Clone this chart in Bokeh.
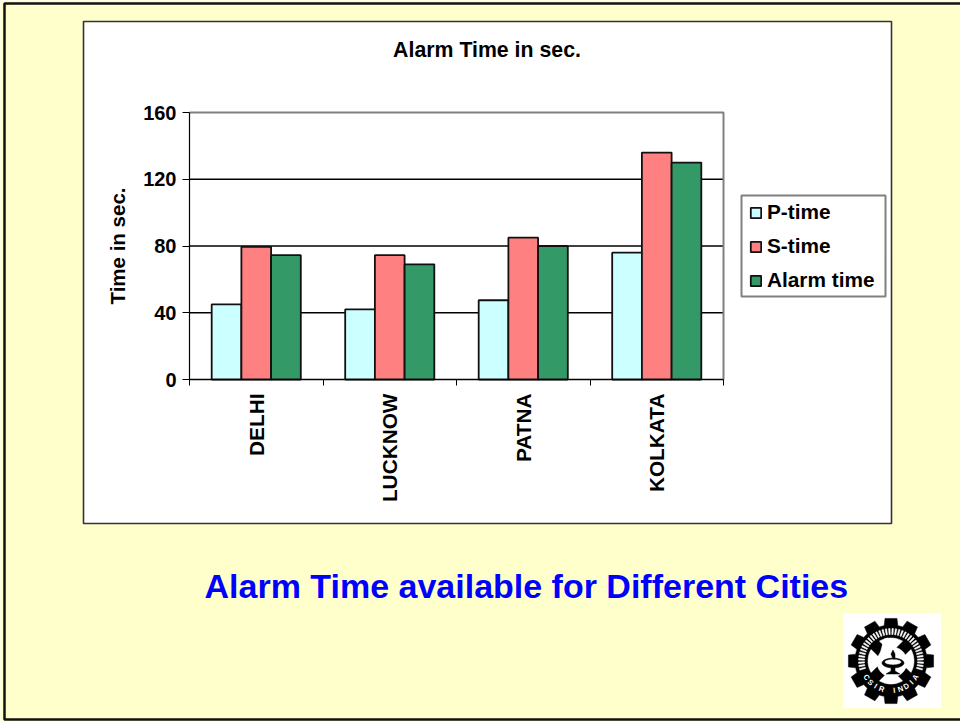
import math
from bokeh.embed import file_html
from bokeh.resources import INLINE
from bokeh.plotting import figure
from bokeh.models import (BoxAnnotation, PolyAnnotation, Label, Legend, LegendItem, FixedTicker,
                          ColumnDataSource, Range1d)
from bokeh.transform import dodge

categories = ["DELHI", "LUCKNOW", "PATNA", "KOLKATA"]
p_time = [45, 42, 47.5, 76]
s_time = [79.5, 74.5, 85, 136]
alarm_time = [74.5, 69, 80, 130]
y_ticks = [0, 40, 80, 120, 160]

FONT = "Liberation Sans"
BG = "#FFFFCC"
W, H = 960, 721
FL, FR, FT, FB = 189, 723, 112, 379
N = len(categories)
YMAX = y_ticks[-1]

sx = (FR - FL) / N
sy = (FB - FT) / YMAX
centers = [i + 0.5 for i in range(N)]
source = ColumnDataSource(dict(x=centers, p=p_time, s=s_time, a=alarm_time))

# The plotting frame fills the whole canvas, the ranges are set so the chart area lands in its place.
p = figure(width=W, height=H, output_backend="svg", toolbar_location=None,
           x_range=Range1d(-FL / sx, (W - FL) / sx), y_range=Range1d((FB - H) / sy, FB / sy),
           min_border=0, background_fill_color=BG, border_fill_color=BG, outline_line_color=None,
           x_axis_location="below", y_axis_location="left")


def box(l, t, r, b, **kw):
    p.add_layout(BoxAnnotation(left=l, right=r, top=t, bottom=b, left_units="canvas", right_units="canvas",
                               top_units="canvas", bottom_units="canvas", level="underlay", fill_alpha=1,
                               line_alpha=1, **kw))


def poly(pts, color):
    p.add_layout(PolyAnnotation(xs=[a for a, _ in pts], ys=[b for _, b in pts], xs_units="canvas", ys_units="canvas",
                                fill_color=color, fill_alpha=1, line_color=color, line_alpha=1,
                                line_width=0.5, level="underlay"))


# slide frame and chart area
box(4, 3, 964, 719, fill_color=BG, line_color="#111111", line_width=2.5)
box(83, 21, 891, 523, fill_color="white", line_color="#333333", line_width=1.6)
# legend frame
box(741, 195, 885, 296, fill_color="white", line_color="#808080", line_width=2)

p.grid.visible = False

# gridlines and plot-area outline, drawn before the bars
grid_y = [t for t in y_ticks if t != YMAX]
p.segment(x0=[0] * len(grid_y), x1=[N] * len(grid_y), y0=grid_y, y1=grid_y, line_color="black", line_width=1.3)
p.line(x=[0, N, N], y=[YMAX, YMAX, 0], line_color="#808080", line_width=2)

xa = p.xaxis[0]
xa.fixed_location = 0
xa.bounds = (0, N)
xa.ticker = FixedTicker(ticks=centers, minor_ticks=list(range(N + 1)))
xa.major_label_overrides = {c: n for c, n in zip(centers, categories)}
xa.major_label_orientation = math.pi / 2
xa.major_label_text_font = FONT
xa.major_label_text_font_style = "bold"
xa.major_label_text_font_size = "20.8px"
xa.major_label_text_color = "black"
xa.major_label_standoff = 8
xa.major_tick_line_color = None
xa.major_tick_in = 0
xa.major_tick_out = 0
xa.minor_tick_line_color = "black"
xa.minor_tick_in = 0
xa.minor_tick_out = 6
xa.axis_line_color = "black"
xa.axis_line_width = 1.2

ya = p.yaxis[0]
ya.fixed_location = 0
ya.bounds = (0, YMAX)
ya.ticker = FixedTicker(ticks=y_ticks)
ya.minor_tick_line_color = None
ya.major_tick_in = 0
ya.major_tick_out = 7
ya.major_tick_line_color = "black"
ya.axis_line_color = "black"
ya.axis_line_width = 1.2
ya.major_label_text_font = FONT
ya.major_label_text_font_style = "bold"
ya.major_label_text_font_size = "20px"
ya.major_label_text_color = "black"
ya.major_label_standoff = 6
ya.axis_label = "Time in sec."
ya.axis_label_text_font = FONT
ya.axis_label_text_font_style = "bold"
ya.axis_label_text_font_size = "20.5px"
ya.axis_label_text_color = "black"
ya.axis_label_standoff = 11

# bars
bw = 0.2225
specs = [("p", -bw, "#CCFFFF", "P-time"), ("s", 0, "#FF8080", "S-time"), ("a", bw, "#339966", "Alarm time")]
items = []
for col, off, color, name in specs:
    r = p.vbar(x=dodge("x", off), top=col, width=bw, bottom=0, source=source,
               fill_color=color, line_color="#111111", line_width=1.8)
    items.append(LegendItem(label=name, renderers=[r]))

legend = Legend(items=items, location=(749, H - 292), orientation="vertical", margin=0,
                padding=0, spacing=10, glyph_width=13, glyph_height=13, label_height=20, label_standoff=5,
                border_line_color=None, background_fill_alpha=0, label_text_font=FONT,
                label_text_font_style="bold", label_text_font_size="20.8px", label_text_color="black")
p.add_layout(legend, "center")

# chart title and caption
p.add_layout(Label(x=486.5, y=49, x_units="canvas", y_units="canvas", text="Alarm Time in sec.",
                   text_font=FONT, text_font_style="bold", text_font_size="21.3px", text_color="black",
                   text_align="center", text_baseline="middle"))
p.add_layout(Label(x=204, y=585, x_units="canvas", y_units="canvas", text="Alarm Time available for Different Cities",
                   text_font=FONT, text_font_style="bold", text_font_size="34px", text_color="#0000FF",
                   text_baseline="middle"))

# emblem
box(843, 613, 940, 707, fill_color="white", line_color="white")
cx, cy = 890.5, 660.5


def circ(r, x0=cx, y0=cy, ry=1.0, n=72):
    return [(x0 + r * math.cos(2 * math.pi * k / n), y0 + ry * r * math.sin(2 * math.pi * k / n)) for k in range(n)]


def pol(r, deg):
    a = math.radians(deg)
    return (cx + r * math.cos(a), cy + r * math.sin(a))


gear = []
for t in range(12):
    a = t * 30
    gear += [pol(36, a - 15), pol(36, a - 11), pol(43, a - 8), pol(43, a + 8), pol(36, a + 11)]
poly(gear, "black")
poly(circ(23), "white")
for deg in (45, 135):
    a = math.radians(deg)
    dx, dy = math.cos(a), math.sin(a)
    nx, ny = -dy * 5.5, dx * 5.5
    poly([(cx - 24 * dx + nx, cy - 24 * dy + ny), (cx + 24 * dx + nx, cy + 24 * dy + ny),
          (cx + 24 * dx - nx, cy + 24 * dy - ny), (cx - 24 * dx - nx, cy - 24 * dy - ny)], "black")
# lamp
poly(circ(15, cx + 1, cy + 1), "white")
poly(circ(11, cx + 2, cy + 2, 0.45), "black")
poly(circ(8, cx + 2, cy + 1, 0.3), "white")
poly([(cx, cy + 6), (cx + 4, cy + 6), (cx + 4, cy + 10), (cx + 9, cy + 13), (cx - 5, cy + 13), (cx, cy + 10)], "black")
poly([(cx - 8, cy - 3), (cx - 4, cy - 12), (cx - 3, cy - 23), (cx - 7, cy - 22), (cx - 10, cy - 11), (cx - 12, cy - 3)], "white")
poly([(cx + 2, cy - 2), (cx, cy - 7), (cx + 2, cy - 11), (cx + 4, cy - 7), (cx + 4, cy - 2)], "black")
# fine white marks standing in for the ring's Devanagari legend
for k in range(165, 380, 6):
    span = 1.3 if k % 4 else 0.8
    poly([pol(26.5, k - span), pol(26.5, k + span), pol(32.5, k + span), pol(32.5, k - span)], "white")
for i, ch in enumerate("CSIR INDIA"):
    deg = 90 + (4.5 - i) * 12.5
    x0, y0 = pol(29.5, deg)
    p.add_layout(Label(x=x0, y=y0, x_units="canvas", y_units="canvas", text=ch, text_color="white", text_font=FONT,
                       text_font_style="bold", text_font_size="7.5px", text_align="center", text_baseline="middle",
                       angle=-math.radians(deg - 90)))

open("out.html", "w").write(file_html(p, INLINE))
